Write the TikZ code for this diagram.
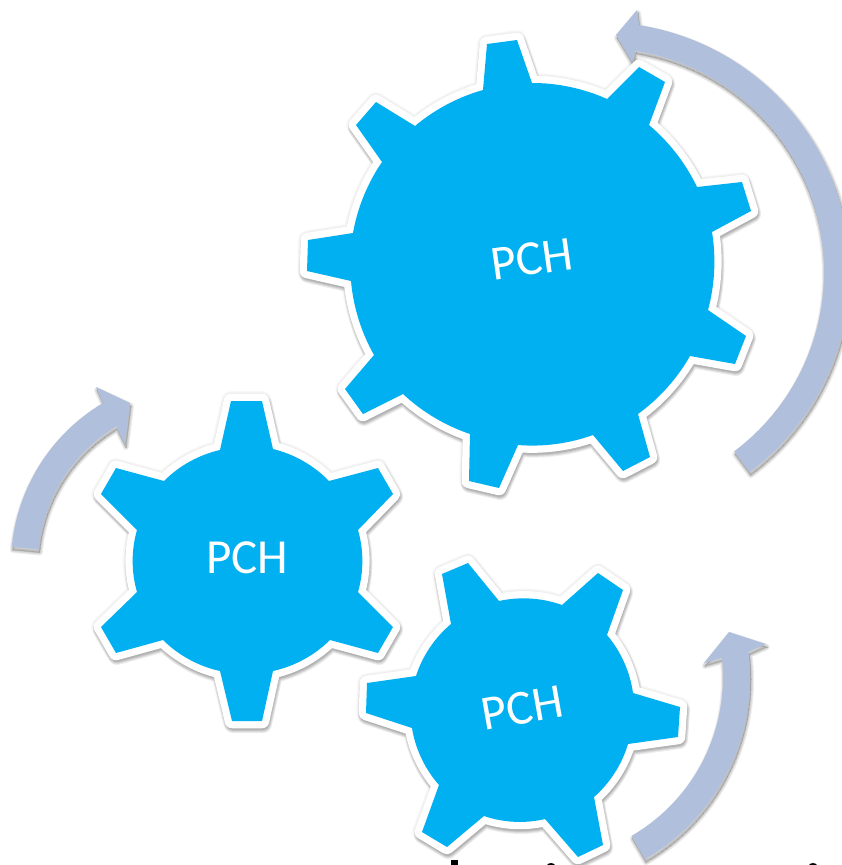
\documentclass[tikz,border=0pt]{standalone}
\usepackage{fontspec}
\setmainfont{Carlito}
\definecolor{gearblue}{HTML}{00B0F0}
\definecolor{arrowblue}{HTML}{B0C0DC}
\tikzset{
  garc/.style={bend left=12.3,looseness=.85},
  garcs/.style={bend left=16.2,looseness=.86},
  pch/.style={text=white,font=\fontsize{49}{49}\selectfont,inner sep=0pt},
  gearedge/.style={draw=white,line width=14.5pt,line join=round,fill=white},
  gearbody/.style={fill=gearblue},
  arrowbody/.style={fill=arrowblue}
}
% soft drop shadow: stacked translucent copies of a path
\newcommand{\softshade}[2]{%
  \foreach \ww in {0,1,2,3}{%
    \path[shift={(1,3)},draw=black,fill=black,draw opacity=.07,fill opacity=.03,
      line join=round,line width=#2+\ww*2 pt] #1;
  }%
}
% faint glow on all sides of a gear's white rim
\newcommand{\softglow}[1]{%
  \foreach \ww in {16,18,20}{%
    \path[draw=black,draw opacity=.022,line join=round,line width=\ww pt] #1;
  }%
}
\def\gearbig{(483,90) -- (487,44) -- (517,40) -- (532,83) to[garc] (607,99)
  -- (639,67) -- (665,82) -- (649,125) to[garc] (697,187)
  -- (742,182) -- (751,211) -- (712,232) to[garc] (708,310)
  -- (746,336) -- (735,364) -- (690,356) to[garc] (638,414)
  -- (650,457) -- (623,471) -- (593,435) to[garc] (518,445)
  -- (499,488) -- (469,481) -- (470,434) to[garc] (403,394)
  -- (363,414) -- (345,389) -- (374,355) to[garc] (351,281)
  -- (307,271) -- (308,240) -- (353,233) to[garc] (382,162)
  -- (356,125) -- (376,102) -- (415,126) to[garc] (483,90) -- cycle}
\def\gearleft{(220,450) -- (231,401) -- (262,401) -- (273,449) to[garcs] (329,481)
  -- (378,468) -- (393,494) -- (358,530) to[garcs] (358,592)
  -- (393,627) -- (378,653) -- (330,640) to[garcs] (273,671)
  -- (262,721) -- (232,721) -- (220,671) to[garcs] (163,640)
  -- (116,653) -- (101,627) -- (137,592) to[garcs] (137,530)
  -- (101,494) -- (116,468) -- (164,481) to[garcs] (220,450) -- cycle}
\def\gearlow{(451,624) -- (442,574) -- (468,563) -- (499,601) to[garcs] (562,605)
  -- (598,573) -- (623,590) -- (607,635) to[garcs] (633,693)
  -- (680,707) -- (678,737) -- (628,744) to[garcs] (594,797)
  -- (603,845) -- (578,857) -- (545,819) to[garcs] (484,816)
  -- (447,847) -- (422,832) -- (439,785) to[garcs] (412,728)
  -- (366,713) -- (367,683) -- (416,676) to[garcs] (451,624) -- cycle}
\def\arrowbig{plot[domain=53.2:-81,samples=80] ({600+250*cos(\x)},{272+250*sin(\x)})
  -- (637,10) -- (616,35) -- (633,63) -- (635,50)
  -- plot[domain=-81:53.2,samples=80] ({600+224*cos(\x)},{272+224*sin(\x)}) -- cycle}
\def\arrowlow{plot[domain=60:-7,samples=50] ({540+210*cos(\x)},{677.4+210*sin(\x)})
  -- (766,644) -- (729,632) -- (704,663) -- (722,658)
  -- plot[domain=-6:60,samples=50] ({540+183*cos(\x)},{677.4+183*sin(\x)}) -- cycle}
\def\arrowleft{plot[domain=185.4:239.3,samples=40] ({199+188*cos(\x)},{564.6+188*sin(\x)})
  -- (96,387) -- (130,403) -- (125,444) -- (117,428)
  -- plot[domain=239.3:185.4,samples=40] ({199+161*cos(\x)},{564.6+161*sin(\x)}) -- cycle}
\begin{document}
\begin{tikzpicture}[x=1pt,y=-1pt]
\useasboundingbox (0,0) rectangle (842,865);
\begin{scope}
\clip (0,0) rectangle (842,865);
\fill[white] (0,0) rectangle (842,865);
% clipped tops of the text below the picture
\fill[black] (450.5,860) rectangle (458,865);
\fill[black] (547,865) .. controls (548,862.5) and (554,862.5) .. (555,865) -- cycle;
\fill[black] (809,865) .. controls (810,862.5) and (816,862.5) .. (817,865) -- cycle;
% arrows
\softshade{\arrowbig}{0pt}
\softshade{\arrowlow}{0pt}
\softshade{\arrowleft}{0pt}
\path[arrowbody] \arrowbig;
\path[arrowbody] \arrowlow;
\path[arrowbody] \arrowleft;
% gears
\softglow{\gearbig}
\softshade{\gearbig}{12pt}
\path[gearedge] \gearbig;
\path[gearbody] \gearbig;
\softglow{\gearleft}
\softshade{\gearleft}{12pt}
\path[gearedge] \gearleft;
\path[gearbody] \gearleft;
\softglow{\gearlow}
\softshade{\gearlow}{12pt}
\path[gearedge] \gearlow;
\path[gearbody] \gearlow;
\end{scope}
\node[pch,rotate=8] (pcha) at (532,259) {PCH};
\node[pch] (pchb) at (247,558) {PCH};
\node[pch,rotate=10] (pchc) at (522,708) {PCH};
\end{tikzpicture}
\end{document}
